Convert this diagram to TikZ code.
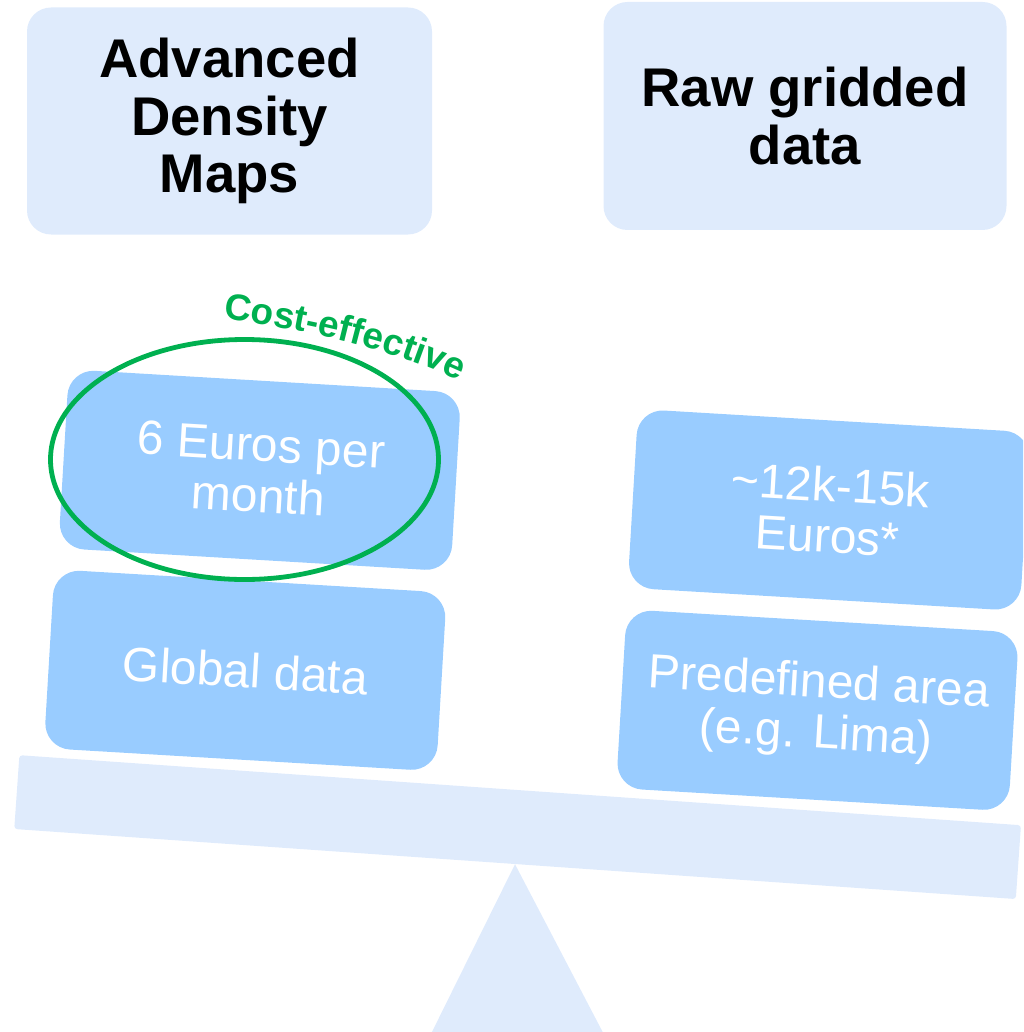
\documentclass[tikz,border=0pt]{standalone}
\usepackage{fontspec}
\setmainfont{Liberation Sans}
\usetikzlibrary{shapes.geometric,decorations.text}

\definecolor{panelblue}{HTML}{DFEBFC}
\definecolor{cardblue}{HTML}{99CCFF}
\definecolor{costgreen}{HTML}{00B050}

\tikzset{
  header/.style={fill=panelblue, rounded corners=24pt, inner sep=0pt,
    minimum width=405pt, minimum height=227pt, align=center,
    font=\fontsize{54.5}{57.5}\selectfont\bfseries},
  costcard/.style={fill=cardblue, rounded corners=26pt, inner sep=0pt,
    minimum width=393pt, minimum height=179pt, align=center, text=white,
    rotate=-3.4, font=\fontsize{48}{51}\selectfont},
  scalepart/.style={fill=panelblue},
}

\begin{document}
\begin{tikzpicture}[x=1pt,y=-1pt]
  \useasboundingbox (0,0) rectangle (1023,1032);
  \clip (0,0) rectangle (1023,1032);

  % balance beam and pivot
  \node (beam) [scalepart, rounded corners=3pt, inner sep=0pt,
    minimum width=1004pt, minimum height=74pt, rotate=-4] at (517.6,827.1) {};
  \fill[scalepart] (beam.south) -- (425,1046) -- (610,1046) -- cycle;

  % column headers
  \node (adm) [header] at (229.5,121) {Advanced\\Density\\Maps};
  \node (raw) [header, minimum width=403pt, minimum height=228pt]
    at (805,116) {Raw gridded\\data};

  % weights on the beam
  \node (price) [costcard] at (259.8,470.3) {6 Euros per\\month};
  \node (global) [costcard] at (245.3,670.3) {Global data};
  \node (rawprice) [costcard] at (829,510) {\textasciitilde12k-15k\\Euros*};
  \node (area) [costcard] at (817.5,710.3) {Predefined area\\(e.g. Lima)};

  % highlight
  \node (ring) [ellipse, draw=costgreen, line width=4.8pt, inner sep=0pt,
    minimum width=388pt, minimum height=240pt] at (244.5,459.5) {};
  \path[decorate, decoration={text along path, text align=center,
      text color=costgreen,
      text={|\fontsize{37}{37}\selectfont\bfseries|Cost-effective}}]
    (216,318) .. controls (294,328) and (388,346) .. (466,384);
\end{tikzpicture}
\end{document}
